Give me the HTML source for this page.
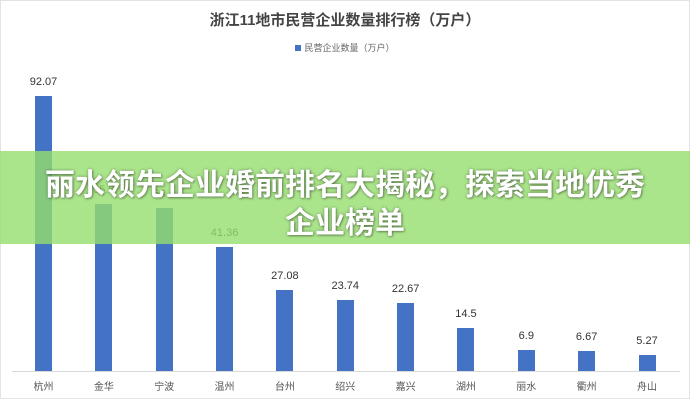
<!DOCTYPE html>
<html><head><meta charset="utf-8"><style>
body{margin:0;width:690px;height:400px;background:#fff;overflow:hidden;position:relative;font-family:"Liberation Sans","Noto Sans CJK SC",sans-serif}
.frame{position:absolute;left:0;top:0;width:688px;height:397px;border:1px solid #e3e3e3}
.title{position:absolute;top:9px;left:0;width:690px;text-align:center;font-size:15px;font-weight:bold;color:#444}
.legend{position:absolute;top:41px;left:0;width:690px;text-align:center;font-size:9px;color:#666}
.legend i{display:inline-block;width:6px;height:6px;background:#4472c4;margin-right:3px}
.bar{position:absolute;width:17px;background:#4472c4}
.val{position:absolute;width:60px;text-align:center;font-size:11px;color:#333}
.xl{position:absolute;width:60px;text-align:center;font-size:10px;color:#555;top:378px}
.axis{position:absolute;left:12px;width:668px;top:371px;height:1px;background:#d9d9d9}
.banner{position:absolute;left:0;top:151px;width:690px;height:93px;background:rgba(150,222,110,0.8)}
.bt{position:absolute;left:0;width:690px;text-align:center;color:#fff;font-weight:bold;font-size:30px;text-shadow:0 0 3px rgba(0,0,0,0.35),1px 1px 2px rgba(0,0,0,0.3)}
</style></head><body>
<div class="frame"></div>
<div class="title">浙江11地市民营企业数量排行榜（万户）</div>
<div class="legend"><i></i>民营企业数量（万户）</div>
<div class="axis"></div>
<div id="c"></div>
<script>
var d=[["杭州",92.07],["金华","55.8",55.8],["宁波",54.4],["温州",41.36],["台州",27.08],["绍兴",23.74],["嘉兴",22.67],["湖州",14.5],["丽水",6.9],["衢州",6.67],["舟山",5.27]];
var h="";
d.forEach(function(r,i){var v=r.length==3?r[2]:r[1];var lab=r.length==3?r[1]:String(r[1]);var cx=43.5+i*60.35;var top=371-v*2.99;
h+='<div class="bar" style="left:'+(cx-8.5)+'px;top:'+top+'px;height:'+(371-top)+'px"></div>';
h+='<div class="val" style="left:'+(cx-30)+'px;top:'+(top-20)+'px">'+lab+'</div>';
h+='<div class="xl" style="left:'+(cx-30)+'px">'+r[0]+'</div>';});
document.getElementById("c").innerHTML=h;
</script>
<div class="banner"></div>
<div class="bt" style="top:160px">丽水领先企业婚前排名大揭秘，探索当地优秀</div>
<div class="bt" style="top:198px">企业榜单</div>
</body></html>
